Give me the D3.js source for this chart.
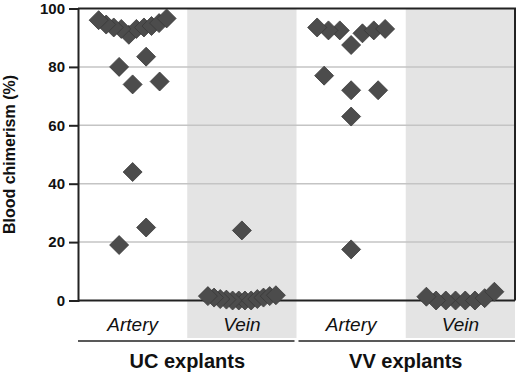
<!DOCTYPE html>
<html>
<head>
<meta charset="utf-8">
<script src="https://cdn.jsdelivr.net/npm/d3@7"></script>
<style>
  body { margin: 0; background: #fff; }
  svg { display: block; font-family: "Liberation Sans", Arial, sans-serif; }
</style>
</head>
<body>
<div id="chart"></div>
<script>
// columns, left to right
var columns = ["UC-Artery", "UC-Vein", "VV-Artery", "VV-Vein"];
var columnLabels = ["Artery", "Vein", "Artery", "Vein"];
var groups = ["UC explants", "VV explants"];
var yTicks = [0, 20, 40, 60, 80, 100];

// blood chimerism (%) per explant
var ucArtery = [96.6, 95, 93.5, 91, 94, 93, 93.5, 93, 94.5, 96, 80, 83.5, 74, 75, 44, 25, 19];
var ucVein = [24, 1.5, 1, 0.5, 0, 0, 0.3, 0, 0, 0.5, 1, 1.5, 1.8];
var vvArtery = [93, 92.5, 91.5, 87.5, 92.5, 92.5, 93.5, 77, 72, 72, 63, 17.5];
var vvVein = [0, 1.3, 0, 0, 0.8, 3, 0, 0];

var series = [ucArtery, ucVein, vvArtery, vvVein];

var width = 520, height = 374;
// note: "top" is taken by window.top, so plot edges get their own names
var plotLeft = 78, plotRight = 515, plotTop = 8.5, plotBottom = 300.5;

var svg = d3.select("#chart").append("svg")
  .attr("width", width).attr("height", height);

var x = d3.scaleBand().domain(columns).range([plotLeft, plotRight]).padding(0);
var y = d3.scaleLinear().domain([0, 100]).range([plotBottom, plotTop]);

// gray bands behind the vein columns (run down behind the labels)
svg.selectAll(".band")
  .data(columns.filter(function (c, i) { return i % 2 == 1; }))
  .enter().append("rect")
  .attr("x", function (d) { return x(d); })
  .attr("y", plotTop)
  .attr("width", x.bandwidth())
  .attr("height", 338 - plotTop)
  .attr("fill", "#e4e4e4");

// grid lines
svg.selectAll(".grid")
  .data(yTicks.filter(function (t) { return t > 0 && t < 100; }))
  .enter().append("line")
  .attr("x1", plotLeft).attr("x2", plotRight)
  .attr("y1", function (d) { return y(d); })
  .attr("y2", function (d) { return y(d); })
  .attr("stroke", "#c4c4c4")
  .attr("stroke-width", 1.5);

// frame top + right
svg.append("path")
  .attr("d", "M" + plotLeft + "," + plotTop + "H" + plotRight + "V" + plotBottom)
  .attr("fill", "none")
  .attr("stroke", "#222")
  .attr("stroke-width", 2);

// bottom axis line
svg.append("line")
  .attr("x1", plotLeft).attr("x2", plotRight)
  .attr("y1", plotBottom).attr("y2", plotBottom)
  .attr("stroke", "#222").attr("stroke-width", 2);

// y axis
var yAxis = svg.append("g")
  .attr("transform", "translate(" + plotLeft + ",0)")
  .call(d3.axisLeft(y).tickValues(yTicks).tickSize(9).tickPadding(4));
yAxis.select(".domain").attr("stroke", "#222").attr("stroke-width", 2);
yAxis.selectAll(".tick line").attr("stroke", "#222").attr("stroke-width", 2);
yAxis.selectAll(".tick text")
  .attr("fill", "#111")
  .style("font-size", "15px")
  .style("font-weight", "bold")
  .style("font-family", "'Liberation Sans', Arial, sans-serif");

svg.append("text")
  .attr("transform", "translate(15," + ((plotTop + plotBottom) / 2) + ") rotate(-90)")
  .attr("text-anchor", "middle")
  .style("font-size", "16px")
  .style("font-weight", "bold")
  .attr("fill", "#111")
  .text("Blood chimerism (%)");

var r = 9.5;
var diamond = "M0," + (-r) + "L" + r + ",0L0," + r + "L" + (-r) + ",0Z";

// spread points with similar values sideways (lowest in the middle),
// then nudge each row sideways if it hits a row placed above it
function swarm(values) {
  var bin = 7, maxWidth = 68, maxStep = 27;
  var sorted = values.slice().sort(function (a, b) { return b - a; });
  var clusters = [];
  sorted.forEach(function (v) {
    var c = clusters[clusters.length - 1];
    if (c && c[0] - v < bin) c.push(v);
    else clusters.push([v]);
  });
  var placed = [];
  clusters.forEach(function (c) {
    c.sort(function (a, b) { return a - b; });
    var n = c.length;
    var step = n > 1 ? Math.min(maxStep, maxWidth / (n - 1)) : 0;
    var slots = c.map(function (v, i) {
      var k = Math.ceil(i / 2);
      return i % 2 == 1 ? k : -k;
    });
    var mid = (d3.max(slots) + d3.min(slots)) / 2;
    var row = c.map(function (v, i) {
      return { value: v, dx: (slots[i] - mid) * step };
    });
    var shifts = [0, 1, -1, 2, -2, 3, -3];
    for (var s = 0; s < shifts.length; s++) {
      var sh = shifts[s] * maxStep / 2;
      var hit = row.some(function (p) {
        return placed.some(function (q) {
          return Math.abs(p.dx + sh - q.dx) + Math.abs(y(p.value) - y(q.value)) < 2 * r - 0.5;
        });
      });
      if (!hit) {
        row.forEach(function (p) { p.dx += sh; });
        break;
      }
    }
    placed = placed.concat(row);
  });
  return placed;
}

columns.forEach(function (col, i) {
  var pts = swarm(series[i]);
  var cx = x(col) + x.bandwidth() / 2;
  svg.append("g").selectAll("path")
    .data(pts)
    .enter().append("path")
    .attr("d", diamond)
    .attr("transform", function (d) {
      return "translate(" + (cx + d.dx) + "," + y(d.value) + ")";
    })
    .attr("fill", "#4c4c4c")
    .attr("stroke", "#3a3a3a")
    .attr("stroke-width", 0.8);
});

// column labels
svg.selectAll(".collabel")
  .data(columns)
  .enter().append("text")
  .attr("x", function (d) { return x(d) + x.bandwidth() / 2; })
  .attr("y", 331)
  .attr("text-anchor", "middle")
  .style("font-size", "19px")
  .style("font-style", "italic")
  .attr("fill", "#111")
  .text(function (d, i) { return columnLabels[i]; });

// group underlines + labels
groups.forEach(function (g, gi) {
  var x0 = x(columns[gi * 2]), x1 = x(columns[gi * 2 + 1]) + x.bandwidth();
  svg.append("line")
    .attr("x1", x0 + (gi == 0 ? 0 : 2)).attr("x2", x1 - (gi == 0 ? 2 : 0))
    .attr("y1", 341).attr("y2", 341)
    .attr("stroke", "#222").attr("stroke-width", 1.5);
  svg.append("text")
    .attr("x", (x0 + x1) / 2)
    .attr("y", 368)
    .attr("text-anchor", "middle")
    .style("font-size", "20px")
    .style("font-weight", "bold")
    .attr("fill", "#111")
    .text(g);
});
</script>
</body>
</html>
